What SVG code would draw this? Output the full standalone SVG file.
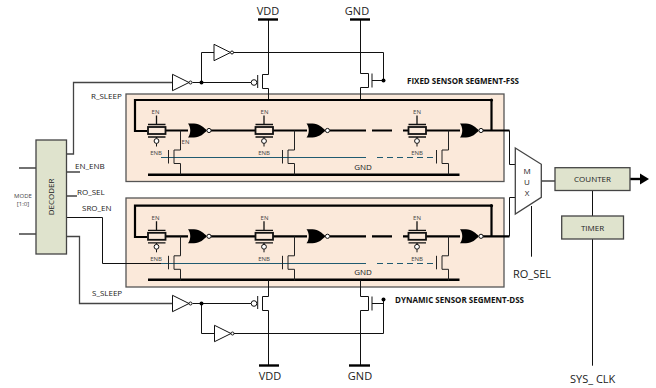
<svg xmlns="http://www.w3.org/2000/svg" width="656" height="388" viewBox="0 0 656 388">
<style>
text{font-family:"Open Sans","Liberation Sans",sans-serif;fill:#222}
.w{fill:none;stroke:#111;stroke-width:1}
.g{fill:none;stroke:#444;stroke-width:1.3}
.t{fill:none;stroke:#000;stroke-width:2.2}
.r{fill:none;stroke:#000;stroke-width:2.4}
.seg{fill:#fbe9da;stroke:#555;stroke-width:1.3}
.box{fill:#dfe3cd;stroke:#444;stroke-width:1.3}
.gate{fill:none;stroke:#1f5a70;stroke-width:1}
.sm{font-size:6px;text-anchor:middle;fill:#444}
.md{font-size:8px}
.mc{font-size:8px;text-anchor:middle}
.lg{font-size:11px;text-anchor:middle}
.bd{font-size:8px;font-weight:700;fill:#111}
.dot{fill:#000}
</style>
<defs>
<g id="tg">
<rect x="-8.5" y="-3.5" width="17.5" height="7" fill="#fbe9da" stroke="#111" stroke-width="1.8"/>
<path d="M-8.5-6H9M-8.5 6.5H9M0-6V-15M0 6.5V8" fill="none" stroke="#111" stroke-width="1.3"/>
<circle cx="0" cy="10.5" r="2.4" fill="#fff" stroke="#111" stroke-width="1"/>
<path d="M0 13V16" fill="none" stroke="#111"/>
</g>
<g id="nor">
<path d="M0-7H6C12-7 16-3 19 0C16 3 12 7 6 7H0C3 3 3-3 0-7Z" fill="#000"/>
<circle cx="21" cy="0" r="2.1" fill="#fff" stroke="#111" stroke-width="1"/>
</g>
<path id="nmos" d="M0 0V19.5H-6.5V33H0V44M-12 19.5V33" fill="none" stroke="#222" stroke-width="1"/>
<path id="inv" d="M0-8.2L16.5 0L0 8.2Z" fill="#fff" stroke="#111" stroke-width="1"/>
<path id="mosp" d="M0 0H-6V14H0" fill="none" stroke="#111" stroke-width="1"/>
<path id="mosn" d="M0 0H8V14H0M11.5 0V14" fill="none" stroke="#111" stroke-width="1"/>
</defs>

<g id="seg-fss">
<rect class="seg" x="126" y="94" width="378" height="87.5"/>
<text class="bd" x="407" y="84">FIXED SENSOR SEGMENT-FSS</text>
<path class="t" d="M491.5 100H135V131H147M165 130.5H188M211 130.5H260M273 130.5H307M330 130.5H366M372 130.5H392M403 130.5H409M426 130.5H460M483 130.5H509.5"/>
<path class="t" d="M491.5 100V130.5"/>
<circle class="dot" cx="491.5" cy="100" r="1.6"/>
<path class="r" d="M148 174.7H459.5"/>
<path class="gate" d="M161 157.5H366"/>
<path class="gate" stroke-dasharray="6 4" d="M377 157.5H437"/>
<use href="#tg" x="156.5" y="130.5"/><use href="#nor" x="188" y="130.5"/><use href="#nmos" x="180.5" y="130.5"/>
<use href="#tg" x="264" y="130.5"/><use href="#nor" x="306.5" y="130.5"/><use href="#nmos" x="294.5" y="130.5"/>
<use href="#tg" x="417" y="130.5"/><use href="#nor" x="460" y="130.5"/><use href="#nmos" x="448.5" y="130.5"/>
<text class="sm" x="155.5" y="114">EN</text><text class="sm" x="264.5" y="114">EN</text><text class="sm" x="417" y="114">EN</text>
<text class="sm" x="185.5" y="144">EN</text>
<text class="sm" x="156" y="155">ENB</text><text class="sm" x="264" y="155">ENB</text><text class="sm" x="417" y="155">ENB</text>
<text class="mc" x="363" y="169.5">GND</text>
</g>

<g id="seg-dss">
<rect class="seg" x="126" y="198" width="378" height="89"/>
<text class="bd" x="395" y="303">DYNAMIC SENSOR SEGMENT-DSS</text>
<path class="t" d="M491.5 205.7H135V237H147M165 236.3H188M211 236.3H260M273 236.3H307M330 236.3H366M372 236.3H392M403 236.3H409M426 236.3H460M483 236.3H509.5"/>
<path class="t" d="M491.5 205.7V236.3"/>
<circle class="dot" cx="491.5" cy="205.7" r="1.6"/>
<path class="r" d="M148 279.7H459.5"/>
<path class="gate" d="M161 263.5H366"/>
<path class="gate" stroke-dasharray="6 4" d="M377 263.5H437"/>
<use href="#tg" x="156.5" y="236.3"/><use href="#nor" x="188" y="236.3"/><use href="#nmos" x="180.5" y="236.3"/>
<use href="#tg" x="264" y="236.3"/><use href="#nor" x="306.5" y="236.3"/><use href="#nmos" x="294.5" y="236.3"/>
<use href="#tg" x="417" y="236.3"/><use href="#nor" x="460" y="236.3"/><use href="#nmos" x="448.5" y="236.3"/>
<text class="sm" x="155.5" y="220">EN</text><text class="sm" x="264.5" y="220">EN</text><text class="sm" x="417" y="220">EN</text>
<text class="sm" x="156" y="261">ENB</text><text class="sm" x="264" y="261">ENB</text><text class="sm" x="417" y="261">ENB</text>
<text class="mc" x="363" y="275">GND</text>
</g>

<g id="connectors">
<path class="g" d="M66.7 154H73.5V82.5H172M19 168H36M19 234H36M541 181H555M66.7 172H80M66.7 196H77M66.7 236.5H79.5V303.5H172"/>
<path class="w" d="M66.7 217.5H102.5V263.5H161"/>
<path class="w" d="M192.5 82.5H251M201.5 82.5V52.5H214M232.5 52.5H383.5V80.5M268.5 19V74.5M268.5 88.5V99M360.5 19V73.5M360.5 87.5V99M372 80.5H383.5"/>
<path class="w" d="M192.5 303.5H251M201.5 303.5V333.5H214M232.5 333.5H383.5V299.5M268.5 280V296.5M268.5 310.5V365M360.5 280V296.5M360.5 310.5V365M372 303.5H383.5"/>
<path class="w" d="M509.5 130.5V164.5H515.3M509.5 236.3V197.5H515.3M531.5 206V256.7"/>
<path class="w" d="M592.5 190.5V216M592.5 239V365.7"/>
<path d="M630 179H641" stroke="#000" stroke-width="2.4"/>
<path d="M640 173.5L649 179L640 184.5Z" fill="#000"/>
<circle class="dot" cx="201.5" cy="82.5" r="2"/><circle class="dot" cx="383.5" cy="80.5" r="2"/>
<circle class="dot" cx="201.5" cy="303.5" r="2"/><circle class="dot" cx="383.5" cy="299.5" r="2"/>
</g>

<g id="vdd-top"><path stroke="#000" stroke-width="2.4" d="M258 19.5H278"/><use href="#mosp" x="268.5" y="74.5"/><circle cx="254" cy="82.5" r="2.8" fill="#fff" stroke="#111"/><path class="w" d="M257.7 75V88"/><text class="lg" x="268" y="15">VDD</text></g>
<g id="gnd-top"><path stroke="#000" stroke-width="2.4" d="M350 19.5H370"/><use href="#mosn" x="360.5" y="73.5"/><text class="lg" x="357" y="15">GND</text></g>
<g id="vdd-bot"><path stroke="#000" stroke-width="2.4" d="M259 365.5H279"/><use href="#mosp" x="268.5" y="296.5"/><circle cx="254" cy="303.5" r="2.8" fill="#fff" stroke="#111"/><path class="w" d="M257.7 296V309"/><text class="lg" x="270" y="380">VDD</text></g>
<g id="gnd-bot"><path stroke="#000" stroke-width="2.4" d="M349 365.5H370"/><use href="#mosn" x="360.5" y="296.5"/><text class="lg" x="360" y="380">GND</text></g>

<g id="inv-1"><use href="#inv" x="172.5" y="82.5"/><circle cx="190.5" cy="82.5" r="1.5" fill="#fff" stroke="#111"/></g>
<g id="inv-2"><use href="#inv" x="214" y="52.5"/><circle cx="232" cy="52.5" r="1.5" fill="#fff" stroke="#111"/></g>
<g id="inv-3"><use href="#inv" x="172.5" y="303.5"/><circle cx="190.5" cy="303.5" r="1.5" fill="#fff" stroke="#111"/></g>
<g id="inv-4"><use href="#inv" x="214.5" y="333.5"/><circle cx="232.5" cy="333.5" r="1.5" fill="#fff" stroke="#111"/></g>

<g id="decoder">
<rect class="box" x="36" y="140" width="30.5" height="114"/>
<text class="md" transform="translate(54 197) rotate(-90)" text-anchor="middle">DECODER</text>
<text class="sm" x="23" y="197.5">MODE</text><text class="sm" x="23" y="205.5">[1:0]</text>
<text class="md" x="75" y="169">EN_ENB</text><text class="md" x="77" y="194.5">RO_SEL</text><text class="md" x="82" y="211">SRO_EN</text>
<text class="md" x="91" y="99">R_SLEEP</text><text class="md" x="92" y="296">S_SLEEP</text>
</g>
<g id="mux">
<path d="M515.3 148L541.3 164.3V197.3L515.3 214Z" fill="#fff" stroke="#444" stroke-width="1.3"/>
<text class="mc" x="527" y="174">M</text><text class="mc" x="527" y="185">U</text><text class="mc" x="527" y="196">X</text>
<text class="lg" x="532" y="278">RO_SEL</text>
</g>
<g id="counter"><rect class="box" x="555" y="167.7" width="75" height="22.8"/><text class="mc" x="592.5" y="182">COUNTER</text></g>
<g id="timer"><rect class="box" x="561.7" y="216" width="61.8" height="23"/><text class="mc" x="592.5" y="230.5">TIMER</text><text class="lg" x="592.7" y="383">SYS_ CLK</text></g>
</svg>
